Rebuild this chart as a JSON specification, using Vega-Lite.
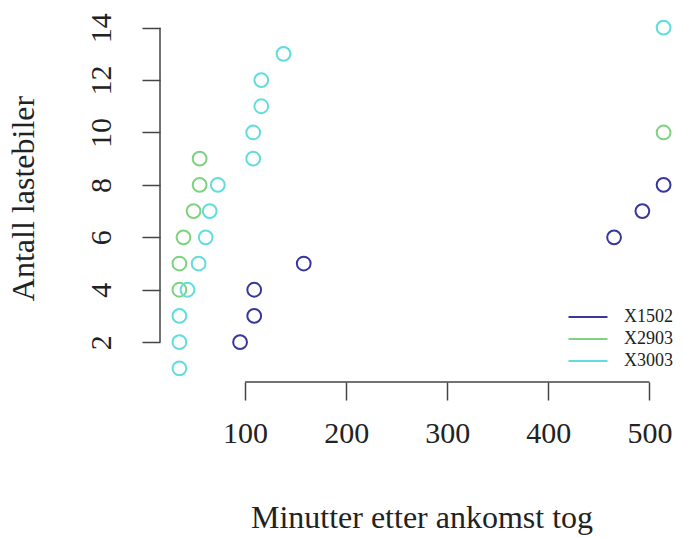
{
  "$schema": "https://vega.github.io/schema/vega-lite/v6.json",
  "width": 523,
  "height": 368,
  "autosize": {"type": "none"},
  "padding": {"left": 160, "top": 14, "right": 0, "bottom": 156},
  "background": "white",
  "config": {
    "view": {"stroke": null},
    "font": "Liberation Serif",
    "axis": {"grid": false, "domain": false, "labelFont": "Liberation Serif", "titleFont": "Liberation Serif", "labelColor": "#222", "titleColor": "#222", "tickColor": "#444", "tickWidth": 1.5, "labelFontSize": 30, "titleFontSize": 32, "titleFontWeight": "normal", "tickSize": 18}
  },
  "datasets": {
    "pts": [
      {"minutes": 95, "trucks": 2, "series": "X1502"},
      {"minutes": 109, "trucks": 3, "series": "X1502"},
      {"minutes": 109, "trucks": 4, "series": "X1502"},
      {"minutes": 158, "trucks": 5, "series": "X1502"},
      {"minutes": 465, "trucks": 6, "series": "X1502"},
      {"minutes": 493, "trucks": 7, "series": "X1502"},
      {"minutes": 514, "trucks": 8, "series": "X1502"},
      {"minutes": 35, "trucks": 4, "series": "X2903"},
      {"minutes": 35, "trucks": 5, "series": "X2903"},
      {"minutes": 39, "trucks": 6, "series": "X2903"},
      {"minutes": 49, "trucks": 7, "series": "X2903"},
      {"minutes": 55, "trucks": 8, "series": "X2903"},
      {"minutes": 55, "trucks": 9, "series": "X2903"},
      {"minutes": 514, "trucks": 10, "series": "X2903"},
      {"minutes": 35, "trucks": 1, "series": "X3003"},
      {"minutes": 35, "trucks": 2, "series": "X3003"},
      {"minutes": 35, "trucks": 3, "series": "X3003"},
      {"minutes": 43, "trucks": 4, "series": "X3003"},
      {"minutes": 54, "trucks": 5, "series": "X3003"},
      {"minutes": 61, "trucks": 6, "series": "X3003"},
      {"minutes": 65, "trucks": 7, "series": "X3003"},
      {"minutes": 73, "trucks": 8, "series": "X3003"},
      {"minutes": 108, "trucks": 9, "series": "X3003"},
      {"minutes": 108, "trucks": 10, "series": "X3003"},
      {"minutes": 116, "trucks": 11, "series": "X3003"},
      {"minutes": 116, "trucks": 12, "series": "X3003"},
      {"minutes": 138, "trucks": 13, "series": "X3003"},
      {"minutes": 514, "trucks": 14, "series": "X3003"}
    ],
    "xaxis": [{"from": 100, "to": 500}],
    "yaxis": [{"from": 2, "to": 14}]
  },
  "layer": [
    {
      "data": {"name": "xaxis"},
      "mark": {"type": "rule", "color": "#444", "strokeWidth": 1.5},
      "encoding": {
        "x": {"field": "from", "type": "quantitative", "scale": {"domain": [15.8, 533.2], "nice": false, "zero": false},
          "axis": {"values": [100, 200, 300, 400, 500], "title": "Minutter etter ankomst tog", "labelBaseline": "alphabetic", "labelPadding": 42, "titlePadding": 79, "titleBaseline": "alphabetic"}},
        "x2": {"field": "to"},
        "y": {"datum": 0.48, "type": "quantitative"}
      }
    },
    {
      "data": {"name": "yaxis"},
      "mark": {"type": "rule", "color": "#444", "strokeWidth": 1.5},
      "encoding": {
        "y": {"field": "from", "type": "quantitative", "scale": {"domain": [0.48, 14.52], "nice": false, "zero": false},
          "axis": {"values": [2, 4, 6, 8, 10, 12, 14], "title": "Antall lastebiler", "labelAngle": -90, "labelAlign": "center", "labelBaseline": "alphabetic", "labelPadding": 32, "titlePadding": 46}},
        "y2": {"field": "to"},
        "x": {"datum": 15.8, "type": "quantitative"}
      }
    },
    {
      "data": {"name": "pts"},
      "mark": {"type": "point", "shape": "circle", "filled": false, "size": 190, "strokeWidth": 2, "opacity": 1},
      "encoding": {
        "x": {"field": "minutes", "type": "quantitative"},
        "y": {"field": "trucks", "type": "quantitative"},
        "color": {"field": "series", "type": "nominal",
          "scale": {"domain": ["X1502", "X2903", "X3003"], "range": ["#38389a", "#7fd27f", "#62dcdc"]},
          "legend": {"title": null, "orient": "none", "legendX": 417, "legendY": 292, "symbolType": "M-2,0H2", "symbolSize": 380, "symbolStrokeWidth": 2, "labelFont": "Liberation Serif", "labelFontSize": 18, "labelColor": "#222", "labelOffset": 25, "rowPadding": 2}}
      }
    }
  ]
}
